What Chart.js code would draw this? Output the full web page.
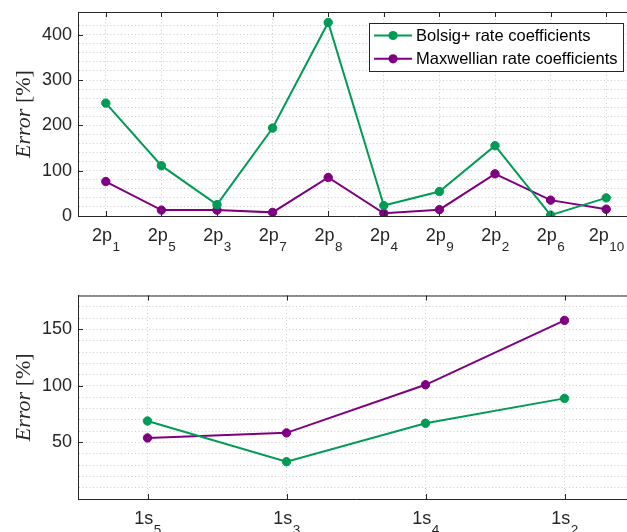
<!DOCTYPE html>
<html>
<head>
<meta charset="utf-8">
<script src="https://cdn.jsdelivr.net/npm/chart.js@4.4.1/dist/chart.umd.min.js"></script>
<style>
body{margin:0;width:627px;height:532px;overflow:hidden;background:#fff;position:relative}
canvas{position:absolute;left:0}
#topChart{top:0}
#bottomChart{top:270px}
</style>
</head>
<body>
<canvas id="topChart" width="645" height="262"></canvas>
<canvas id="bottomChart" width="645" height="262"></canvas>
<script>
// -------------------- DATA --------------------
const seriesNames = ["Bolsig+ rate coefficients", "Maxwellian rate coefficients"];

const topLevels = ["2p_1","2p_5","2p_3","2p_7","2p_8","2p_4","2p_9","2p_2","2p_6","2p_10"];
const topBolsig = [249, 111, 25, 194, 427, 23, 54, 155, 2, 40];
const topMaxwell = [76, 13, 13, 8, 85, 6, 14, 93, 35, 15];
const topTicks = [0, 100, 200, 300, 400];

const bottomLevels = ["1s_5","1s_3","1s_4","1s_2"];
const bottomBolsig = [69, 33, 67, 89];
const bottomMaxwell = [54, 58.5, 101, 158];
const bottomTicks = [50, 100, 150];

const GREEN = "#009b55";
const PURPLE = "#7e0080";
const INK = "#262626";
const GRID = "#cdcdcd";
const SANS = '"Liberation Sans", Arial, Helvetica, sans-serif';
const SERIF = '"Liberation Serif", "Times New Roman", serif';

// -------------------- AXES DECORATION --------------------
// top border, inward ticks, subscript labels, y title and legend
const axesDeco = {
    id: "axesDeco",
    afterDraw(chart, args, opts) {
        const ctx = chart.ctx;
        const a = chart.chartArea;
        const xs = chart.scales.x, ys = chart.scales.y;
        ctx.save();

        // top border
        ctx.strokeStyle = INK;
        ctx.lineWidth = 1;
        ctx.beginPath();
        ctx.moveTo(a.left, a.top + 0.5);
        ctx.lineTo(a.right, a.top + 0.5);
        ctx.stroke();

        // inward ticks
        ctx.beginPath();
        xs.ticks.forEach((t, i) => {
            const x = Math.round(xs.getPixelForTick(i)) + 0.5;
            ctx.moveTo(x, a.top); ctx.lineTo(x, a.top + 5);
            ctx.moveTo(x, a.bottom); ctx.lineTo(x, a.bottom - 5);
        });
        opts.yTicks.forEach(v => {
            const y = Math.round(ys.getPixelForValue(v)) + 0.5;
            ctx.moveTo(a.left, y); ctx.lineTo(a.left + 5, y);
        });
        ctx.stroke();

        // x labels with subscripts (TeX style "2p_1")
        ctx.fillStyle = INK;
        ctx.textBaseline = "alphabetic";
        ctx.textAlign = "left";
        chart.data.labels.forEach((lab, i) => {
            const [base, sub] = lab.split("_");
            ctx.font = "18px " + SANS;
            const wb = ctx.measureText(base).width;
            ctx.font = "13.5px " + SANS;
            const ws = ctx.measureText(sub).width;
            const x0 = xs.getPixelForTick(i) - (wb + ws) / 2;
            const yb = a.bottom + 25;
            ctx.font = "18px " + SANS;
            ctx.fillText(base, x0, yb);
            ctx.font = "13.5px " + SANS;
            ctx.fillText(sub, x0 + wb + 0.5, yb + 10);
        });

        // y title: italic Error, upright [%]
        ctx.save();
        ctx.translate(24, (a.top + a.bottom) / 2);
        ctx.rotate(-Math.PI / 2);
        ctx.textBaseline = "middle";
        ctx.font = "italic 22px " + SERIF;
        const w1 = ctx.measureText("Error").width;
        ctx.font = "22px " + SERIF;
        const w2 = ctx.measureText(" [%]").width;
        let tx = -(w1 + w2) / 2;
        ctx.font = "italic 22px " + SERIF;
        ctx.fillText("Error", tx, 0);
        ctx.font = "22px " + SERIF;
        ctx.fillText(" [%]", tx + w1, 0);
        ctx.restore();

        // legend box
        if (opts.legend) {
            ctx.font = "16.5px " + SANS;
            const tw = Math.max(...chart.data.datasets.map(d => ctx.measureText(d.label).width));
            const bw = 4.7 + 38 + 4 + tw + 5.5;
            const bh = 48;
            const right = a.right - 11;
            const left = right - bw;
            const top = a.top + 11;
            ctx.fillStyle = "#fff";
            ctx.fillRect(left, top, bw, bh);
            ctx.strokeStyle = INK;
            ctx.lineWidth = 1;
            ctx.strokeRect(Math.round(left) + 0.5, Math.round(top) + 0.5, Math.round(bw), bh);
            chart.data.datasets.forEach((d, i) => {
                const cy = top + 12.5 + i * 23.3;
                const lx = left + 4.7;
                ctx.strokeStyle = d.borderColor;
                ctx.lineWidth = 2;
                ctx.beginPath();
                ctx.moveTo(lx, cy); ctx.lineTo(lx + 38, cy);
                ctx.stroke();
                ctx.fillStyle = d.borderColor;
                ctx.beginPath();
                ctx.arc(lx + 19, cy, 4.6, 0, Math.PI * 2);
                ctx.fill();
                ctx.fillStyle = "#000";
                ctx.textBaseline = "middle";
                ctx.fillText(d.label, lx + 42, cy + 1);
            });
        }
        ctx.restore();
    }
};

// -------------------- CHART BUILDER --------------------
function makeSeries(label, values, color) {
    return {
        label: label,
        data: values,
        borderColor: color,
        backgroundColor: color,
        borderWidth: 2,
        pointRadius: 4.2,
        pointBorderWidth: 1,
        pointBackgroundColor: color,
        pointBorderColor: color,
        tension: 0
    };
}

function drawPanel(id, levels, bolsig, maxwell, yMax, step, yTicks, pad, legend) {
    const ctx = document.getElementById(id).getContext("2d");
    return new Chart(ctx, {
        type: "line",
        data: {
            labels: levels,
            datasets: [
                makeSeries(seriesNames[0], bolsig, GREEN),
                makeSeries(seriesNames[1], maxwell, PURPLE)
            ]
        },
        options: {
            responsive: false,
            animation: false,
            layout: { padding: pad },
            plugins: {
                legend: { display: false },
                tooltip: { enabled: false },
                axesDeco: { yTicks: yTicks, legend: legend }
            },
            scales: {
                x: {
                    type: "category",
                    offset: true,
                    grid: { offset: false, color: GRID, drawTicks: false },
                    border: { color: INK, width: 1, dash: [1, 2.5] },
                    ticks: { display: false },
                    afterFit(scale) {
                        scale.height = 0;
                        scale.paddingLeft = 0; scale.paddingRight = 0;
                    }
                },
                y: {
                    min: 0,
                    max: yMax,
                    grid: { color: GRID, drawTicks: false },
                    border: { color: INK, width: 1, dash: [1, 2.5] },
                    ticks: {
                        stepSize: step,
                        autoSkip: false,
                        maxTicksLimit: 200,
                        padding: 6,
                        color: INK,
                        font: { family: SANS, size: 18 },
                        callback: v => yTicks.includes(v) ? v : ""
                    },
                    afterFit(scale) {
                        scale.width = 78;
                        scale.paddingTop = 0; scale.paddingBottom = 0;
                    }
                }
            }
        },
        plugins: [axesDeco]
    });
}

drawPanel("topChart", topLevels, topBolsig, topMaxwell, 450, 20, topTicks,
    { top: 12, bottom: 46, left: 0, right: 11 }, true);
drawPanel("bottomChart", bottomLevels, bottomBolsig, bottomMaxwell, 180, 10, bottomTicks,
    { top: 25.5, bottom: 33, left: 0, right: 11 }, false);
</script>
</body>
</html>
